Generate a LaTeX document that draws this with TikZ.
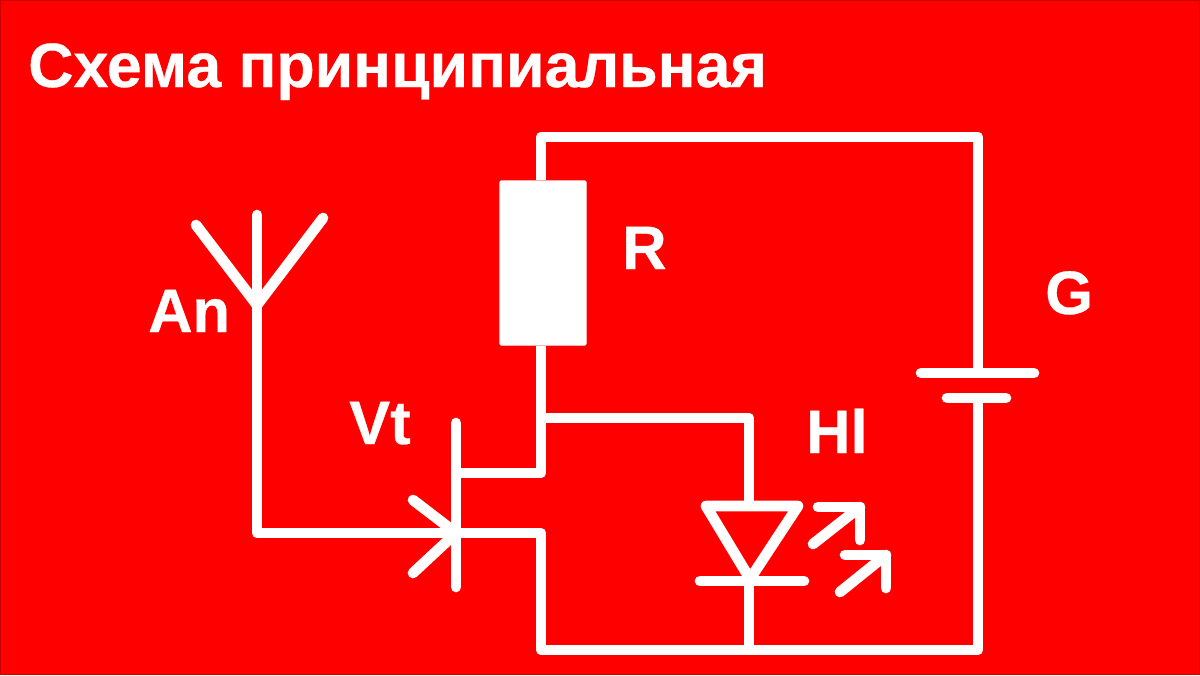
\documentclass[tikz,border=0pt]{standalone}
\usepackage{fontspec}
\setmainfont{Liberation Sans}[BoldFeatures={FakeBold=0.5}]
\definecolor{bgred}{RGB}{255,0,0}
\tikzset{
  wire/.style={draw=white,line width=8pt,line join=round,line cap=butt},
  symline/.style={draw=white,line width=8pt,line join=round,line cap=round},
  lbl/.style={text=white,font=\bfseries\fontsize{46}{46}\selectfont,anchor=base west,inner sep=0pt},
  titletext/.style={text=white,font=\bfseries\fontsize{47}{47}\selectfont,anchor=base west,inner sep=0pt},
  resistorbox/.style={fill=white,draw=white,line width=1pt,rounded corners=1pt,inner sep=0pt,minimum width=64.5pt,minimum height=123pt}
}
\begin{document}
\begin{tikzpicture}[x=0.75pt,y=-0.75pt]
\useasboundingbox (0,0) rectangle (1200,675);
\fill[bgred] (0,0) rectangle (1200,675);
\draw[draw=red!80!black,line width=0.75pt] (0.4,0.4) rectangle (1199.6,674.6);
% named points
\coordinate (tl) at (541,137);
\coordinate (tr) at (978,137);
\coordinate (bl) at (541,650);
\coordinate (br) at (978,650);
\coordinate (batA) at (978,373);
\coordinate (batB) at (978,398);
\coordinate (batAl) at (921,373);
\coordinate (batAr) at (1034,373);
\coordinate (batBl) at (947,398);
\coordinate (batBr) at (1006,398);
\coordinate (junc) at (541,418);
\coordinate (drain) at (456,473);
\coordinate (draincorner) at (541,473);
\coordinate (gateT) at (456,423);
\coordinate (gateB) at (456,587);
\coordinate (gateM) at (456,533);
\coordinate (srccorner) at (541,533);
\coordinate (arrA) at (413,500);
\coordinate (arrB) at (413,573);
\coordinate (antTop) at (257,215);
\coordinate (antM) at (257,305);
\coordinate (antL) at (196,225);
\coordinate (antR) at (323,218);
\coordinate (antCorner) at (257,533);
\coordinate (ledCorner) at (749,418);
\coordinate (ledTop) at (749,506);
\coordinate (ledTL) at (706,506);
\coordinate (ledTR) at (798,506);
\coordinate (ledApex) at (750,579);
\coordinate (ledBarL) at (700,581);
\coordinate (ledBarR) at (804,581);
\coordinate (ledBar) at (749,581);
\coordinate (ledBot) at (749,650);
\coordinate (a1s) at (813,544);
\coordinate (a1t) at (860,507);
\coordinate (a1h) at (818,507);
\coordinate (a1v) at (860,540);
\coordinate (a2s) at (840,592);
\coordinate (a2t) at (886,555);
\coordinate (a2h) at (845,555);
\coordinate (a2v) at (886,588);
% resistor
\node[resistorbox] (res) at (543,263) {};
% wires
\draw[wire] (res.north -| tl) -- (tl) -- (tr) -- (batA);
\draw[wire] (batB) -- (br) -- (bl) -- (srccorner) -- (antCorner) -- (antTop);
\draw[wire] (res.south -| tl) -- (draincorner) -- (drain);
\draw[wire] (junc) -- (ledCorner) -- (ledTop);
\draw[wire] (ledBar) -- (ledBot);
% symbols
\draw[symline] (batAl) -- (batAr);
\draw[symline] (batBl) -- (batBr);
\draw[symline] (gateT) -- (gateB);
\draw[symline] (arrA) -- (gateM) -- (arrB);
\draw[symline] (antTop) -- (antM);
\draw[symline] (antL) -- (antM) -- (antR);
\draw[symline] (ledTL) -- (ledTR) -- (ledApex) -- cycle;
\draw[symline] (ledBarL) -- (ledBarR);
\draw[symline] (a1s) -- (a1t);
\draw[symline] (a1h) -- (a1t) -- (a1v);
\draw[symline] (a2s) -- (a2t);
\draw[symline] (a2h) -- (a2t) -- (a2v);
% labels
\node[titletext] (title) at (28,87) {Схема принципиальная};
\node[lbl] (lAn) at (148,332) {An};
\node[lbl] (lR) at (622,269) {R};
\node[lbl] (lG) at (1045,314) {G};
\node[lbl] (lVt) at (349,444) {Vt};
\node[lbl] (lHl) at (806,453) {Hl};
\end{tikzpicture}
\end{document}
